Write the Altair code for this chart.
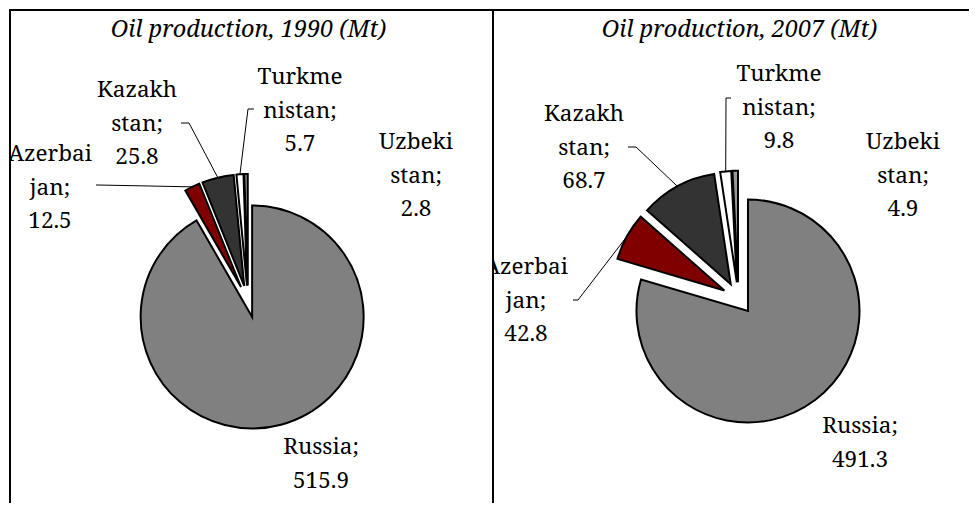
import altair as alt
import pandas as pd

# ---- data ----
countries = ["Russia", "Azerbaijan", "Kazakhstan", "Turkmenistan", "Uzbekistan"]
label_names = ["Russia;", "Azerbai\njan;", "Kazakh\nstan;", "Turkme\nnistan;", "Uzbeki\nstan;"]
prod_1990 = [515.9, 12.5, 25.8, 5.7, 2.8]
prod_2007 = [491.3, 42.8, 68.7, 9.8, 4.9]
titles = {1990: "Oil production, 1990 (Mt)", 2007: "Oil production, 2007 (Mt)"}

# ---- style / layout ----
colors = ["#808080", "#800000", "#333333", "#ffffff", "#969696"]
FONT = "Noto Serif"
LABEL_SIZE = 22.5
TITLE_SIZE = 23.5
H = 494
R = 111.5
E = 16  # explode distance

layout = {
    1990: dict(
        W=484, cx=239, cy=292.5, title_x=239.5, frame_x=1,
        labels={"Russia": (312, 445), "Azerbaijan": (41, 152), "Kazakhstan": (128, 88),
                "Turkmenistan": (291, 75), "Uzbekistan": (407, 140)},
        leaders={"Azerbaijan": (87, 176, 89), "Kazakhstan": (172, 114, 180),
                 "Turkmenistan": (245, 100, 239)},
    ),
    2007: dict(
        W=476, cx=245.4, cy=289.2, title_x=246.5, frame_x=0,
        labels={"Russia": (367, 424), "Azerbaijan": (33, 265), "Kazakhstan": (91, 112),
                "Turkmenistan": (286, 72), "Uzbekistan": (410, 140)},
        leaders={"Azerbaijan": (80, 291, 85), "Kazakhstan": (135, 138, 143),
                 "Turkmenistan": (238, 89, 233)},
    ),
}


def panel(values, year):
    lay = layout[year]
    W = lay["W"]
    rows = []
    for i, (c, n, v) in enumerate(zip(countries, label_names, values)):
        lx, ly = lay["labels"][c]
        ld = lay["leaders"].get(c)
        rows.append(dict(
            country=c, order=i, value=v, label=f"{n}\n{v:.1f}", lx=lx, ly=ly,
            tx=ld[0] if ld else None, ty=ld[1] if ld else None, kx=ld[2] if ld else None,
        ))
    df = pd.DataFrame(rows)
    total = float(sum(values))
    xs = alt.Scale(domain=[0, W], range=[0, W], nice=False, zero=False)
    ys = alt.Scale(domain=[0, H], range=[0, H], nice=False, zero=False)
    cx, cy = lay["cx"], lay["cy"]

    base = (
        alt.Chart(df)
        .transform_joinaggregate(total="sum(value)")
        .transform_window(cum="sum(value)", sort=[alt.SortField("order", order="ascending")],
                          frame=[None, 0])
        .transform_calculate(start="datum.cum - datum.value")
        .transform_calculate(mid="(datum.cum - datum.value / 2) / datum.total * 2 * PI")
        .transform_calculate(px=f"{cx} + {E} * sin(datum.mid)")
        .transform_calculate(py=f"{cy} - {E} * cos(datum.mid)")
        .transform_calculate(sx=f"{cx} + {E + R} * sin(datum.mid)")
        .transform_calculate(sy=f"{cy} - {E + R} * cos(datum.mid)")
    )

    arcs = base.mark_arc(outerRadius=R, stroke="black", strokeWidth=2).encode(
        x=alt.X("px:Q", scale=xs, axis=None),
        y=alt.Y("py:Q", scale=ys, axis=None),
        theta=alt.Theta("start:Q", scale=alt.Scale(domain=[0, total]), stack=None),
        theta2=alt.Theta2("cum"),
        color=alt.Color("country:N", scale=alt.Scale(domain=countries, range=colors), legend=None),
    )

    lead = base.transform_filter("isValid(datum.tx)")
    seg1 = lead.mark_rule(color="black", strokeWidth=1).encode(
        x=alt.X("tx:Q", scale=xs, axis=None), y=alt.Y("ty:Q", scale=ys, axis=None),
        x2=alt.X2("kx"), y2=alt.Y2("ty"),
    )
    seg2 = lead.mark_rule(color="black", strokeWidth=1).encode(
        x=alt.X("kx:Q", scale=xs, axis=None), y=alt.Y("ty:Q", scale=ys, axis=None),
        x2=alt.X2("sx"), y2=alt.Y2("sy"),
    )

    texts = base.mark_text(font=FONT, fontSize=LABEL_SIZE, lineHeight=33.5, align="center",
                           baseline="alphabetic", lineBreak="\n", clip=True,
                           color="black").encode(
        x=alt.X("lx:Q", scale=xs, axis=None),
        y=alt.Y("ly:Q", scale=ys, axis=None),
        text="label:N",
    )

    one = alt.Chart(pd.DataFrame({"t": [titles[year]]}))
    title = one.mark_text(font=FONT, fontSize=TITLE_SIZE, fontStyle="italic", align="center",
                          baseline="alphabetic", color="black").encode(
        x=alt.value(lay["title_x"]), y=alt.value(28), text="t:N")
    top = one.mark_rule(color="black", strokeWidth=2).encode(
        x=alt.value(0), x2=alt.value(W), y=alt.value(1))
    left = one.mark_rule(color="black", strokeWidth=2).encode(
        x=alt.value(lay["frame_x"]), y=alt.value(0), y2=alt.value(H))

    return alt.layer(top, left, arcs, seg1, seg2, texts, title).properties(width=W, height=H)


chart = (
    alt.hconcat(panel(prod_1990, 1990), panel(prod_2007, 2007), spacing=0)
    .properties(padding=0, bounds="flush")
    .configure_view(stroke=None)
    .configure_concat(spacing=0)
)

chart.save("out.html", embed_options={"renderer": "svg", "actions": False})
